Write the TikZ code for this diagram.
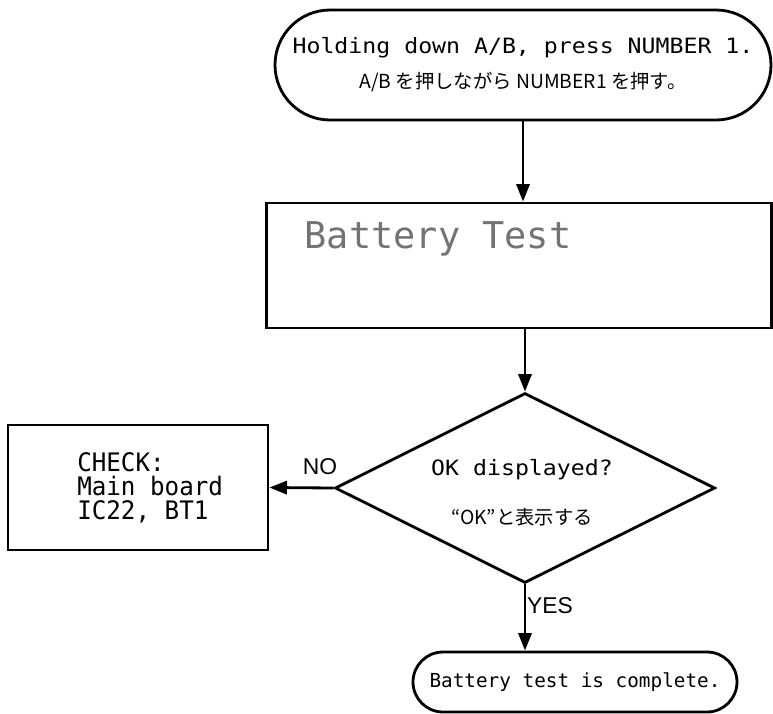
\documentclass[tikz,border=0pt]{standalone}
\usepackage{fontspec}
\newfontfamily\plotfont[FakeStretch=1.1]{DejaVu Sans Mono}
\newfontfamily\checkfont[FakeStretch=0.95]{DejaVu Sans Mono}
\newfontfamily\monofont{DejaVu Sans Mono}
\newfontfamily\jpfont{Noto Sans CJK JP}
\newfontfamily\labelfont{Liberation Sans}
\usepackage{tikz}
\usetikzlibrary{shapes.misc, shapes.geometric, arrows.meta, positioning}

\begin{document}
\begin{tikzpicture}[
        line width=1.6pt,
        flow/.style={-{Triangle[length=10pt, width=7.5pt]}},
        terminal/.style={rounded rectangle, draw, inner sep=0pt, align=center},
        process/.style={rectangle, draw, inner sep=0pt},
        decision/.style={diamond, draw, inner sep=0pt, align=center},
        plot/.style={font=\plotfont\fontsize{12}{14}\selectfont},
        jp/.style={font=\jpfont\fontsize{11}{13}\selectfont},
        answer/.style={font=\labelfont\fontsize{13}{15}\selectfont}
    ]
        \useasboundingbox (0,0) rectangle (15.46,-14.28);

        % Start
        \node[terminal, minimum width=9.92cm, minimum height=2.2cm] (start) at (10.46,-1.30) {
            {\plotfont\fontsize{12}{14}\selectfont Holding down A/B, press NUMBER 1.}\\[8pt]
            {\jpfont\fontsize{11}{13}\selectfont A/B を押しながら NUMBER1 を押す。}
        };

        % Display
        \node[process, minimum width=10.1cm, minimum height=2.5cm] (test) at (10.38,-5.31) {};
        \node[anchor=west, text=black!55, font=\monofont\fontsize{21}{24}\selectfont] (lcd) at (5.95,-4.78) {Battery Test};

        % Decision
        \node[decision, minimum width=7.6cm, minimum height=3.8cm] (ok) at (10.5,-9.76) {};
        \node[plot] (oktxt) at (10.44,-9.4) {OK displayed?};
        \node[jp] (okjp) at (10.44,-10.34) {“OK”と表示する};

        % Check
        \node[process, minimum width=5.2cm, minimum height=2.5cm] (check) at (2.76,-9.75) {};
        \node[anchor=west, align=left, font=\checkfont\fontsize{14.5}{13.5}\selectfont] (checktxt) at (1.4,-9.76) {CHECK:\\Main board\\IC22, BT1};

        % End
        \node[terminal, font=\monofont\fontsize{11}{13}\selectfont, minimum width=6.48cm, minimum height=1.2cm] (done) at (11.5,-13.64) {Battery test is complete.};

        % Arrows
        \draw[flow] (start.south) -- (start.south |- test.north);
        \draw[flow] (test.south -| ok.north) -- (ok.north);
        \draw[flow] (ok.west) -- (check.east);
        \draw[flow] (ok.south) -- (ok.south |- done.north);

        % Answers
        \node[answer] (no) at (6.4,-9.34) {NO};
        \node[answer] (yes) at (11.0,-12.12) {YES};
    \end{tikzpicture}
\end{document}
